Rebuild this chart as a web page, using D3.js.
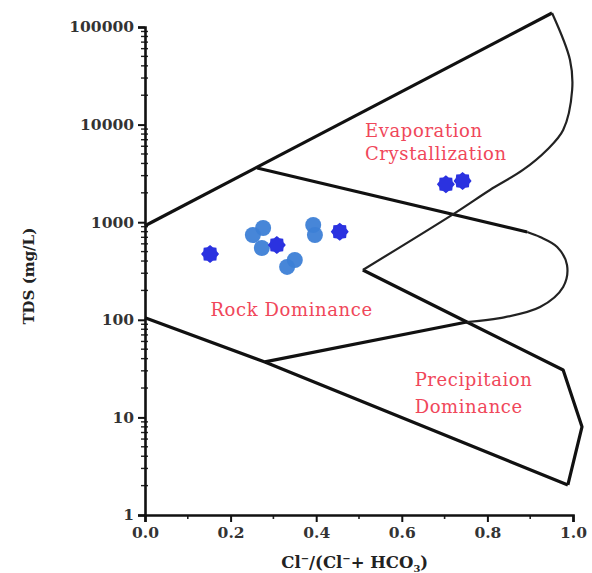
<!DOCTYPE html>
<html>
<head>
<meta charset="utf-8">
<title>Gibbs diagram</title>
<script src="https://d3js.org/d3.v7.min.js"></script>
<style>
  body { margin: 0; background: #fff; }
  svg text { font-family: "DejaVu Serif", serif; }
</style>
</head>
<body>
<div id="chart"></div>
<script>
// sample points: [Cl/(Cl+HCO3), TDS mg/L]
const darkPoints = [[0.152, 472], [0.308, 584], [0.455, 800], [0.703, 2450], [0.742, 2650]];
const lightPoints = [[0.276, 872], [0.252, 739], [0.273, 544], [0.393, 936], [0.397, 739], [0.332, 348], [0.350, 410]];

// boundary lines of the Gibbs diagram
const outerTopLine = [[0, 920], [0.951, 139000]];
const outerTopCurve = [[0.951, 139000], [0.993, 45900], [0.998, 22600], [0.977, 8800], [0.939, 5500],
                       [0.883, 3430], [0.806, 2140], [0.724, 1240], [0.509, 324]];
const midLine = [[0.262, 3590], [0.893, 794]];
const midCurve = [[0.893, 794], [0.923, 705], [0.963, 557], [0.986, 364], [0.977, 217], [0.923, 135],
                  [0.829, 104], [0.752, 95]];
const midLower = [[0.752, 95], [0.28, 37]];
const outerLower = [[0, 105], [0.28, 37], [0.988, 2.03]];
const rightLower = [[0.509, 324], [0.752, 95], [0.977, 30.6], [1.021, 8], [0.988, 2.03]];

const yTicks = [1, 10, 100, 1000, 10000, 100000];
const xTicks = [0, 0.2, 0.4, 0.6, 0.8, 1.0];

const width = 592, height = 573;
const margin = {top: 27, right: 19, bottom: 58, left: 145};
const w = width - margin.left - margin.right;
const h = height - margin.top - margin.bottom;

const svg = d3.select('#chart').append('svg')
    .attr('width', width)
    .attr('height', height);

const g = svg.append('g')
    .attr('transform', `translate(${margin.left},${margin.top})`);

const x = d3.scaleLinear().domain([0, 1]).range([0, w]);
const y = d3.scaleLog().domain([1, 100000]).range([h, 0]);

// minor ticks
const minorY = [];
for (let p = 0; p < 5; p++) for (let k = 2; k < 10; k++) minorY.push(k * Math.pow(10, p));
g.append('g').selectAll('line').data(minorY).join('line')
    .attr('x1', -4).attr('x2', 3)
    .attr('y1', d => y(d)).attr('y2', d => y(d))
    .attr('stroke', '#222').attr('stroke-width', 1.4);

g.append('g').selectAll('line').data([0.1, 0.3, 0.5, 0.7, 0.9]).join('line')
    .attr('x1', d => x(d)).attr('x2', d => x(d))
    .attr('y1', h).attr('y2', h + 4)
    .attr('stroke', '#222').attr('stroke-width', 1.6);

// axes
const yAxis = g.append('g')
    .call(d3.axisLeft(y).tickValues(yTicks).tickFormat(d3.format('d')).tickSize(7).tickPadding(4));
const xAxis = g.append('g')
    .attr('transform', `translate(0,${h})`)
    .call(d3.axisBottom(x).tickValues(xTicks).tickFormat(d3.format('.1f')).tickSize(7).tickPadding(5));

[yAxis, xAxis].forEach(a => {
  a.select('.domain').attr('stroke', '#111').attr('stroke-width', 2.6);
  a.selectAll('.tick line').attr('stroke', '#111').attr('stroke-width', 2);
  a.selectAll('.tick text')
      .attr('font-family', '"DejaVu Serif", serif')
      .attr('font-weight', 'bold')
      .attr('font-size', 15.5)
      .attr('fill', '#333');
});

// boundaries
const line = d3.line().x(d => x(d[0])).y(d => y(d[1]));
const curve = d3.line().x(d => x(d[0])).y(d => y(d[1])).curve(d3.curveCatmullRom.alpha(0.5));

[outerTopLine, midLine, midLower, outerLower, rightLower].forEach(pts => {
  g.append('path').attr('d', line(pts))
      .attr('fill', 'none').attr('stroke', '#111').attr('stroke-width', 3.2)
      .attr('stroke-linejoin', 'round');
});
[outerTopCurve, midCurve].forEach(pts => {
  g.append('path').attr('d', curve(pts))
      .attr('fill', 'none').attr('stroke', '#222').attr('stroke-width', 2.2);
});

// markers
const gear = d3.lineRadial().curve(d3.curveLinearClosed)
    .angle((d, i) => i * Math.PI / 8)
    .radius((d, i) => i % 2 ? 7.3 : 9);
const gearPts = d3.range(16);

g.append('g').selectAll('circle').data(lightPoints).join('circle')
    .attr('cx', d => x(d[0])).attr('cy', d => y(d[1]))
    .attr('r', 8)
    .attr('fill', '#3d7fd6').attr('opacity', 0.95);

g.append('g').selectAll('path').data(darkPoints).join('path')
    .attr('transform', d => `translate(${x(d[0])},${y(d[1])})`)
    .attr('d', gear(gearPts))
    .attr('fill', '#2b32e0');

// region labels
const labels = [
  {t: 'Evaporation', v: 0.514, tds: 7460},
  {t: 'Crystallization', v: 0.514, tds: 4340},
  {t: 'Rock Dominance', v: 0.153, tds: 110},
  {t: 'Precipitaion', v: 0.63, tds: 21},
  {t: 'Dominance', v: 0.63, tds: 11}
];
g.append('g').selectAll('text').data(labels).join('text')
    .attr('x', d => x(d.v)).attr('y', d => y(d.tds))
    .attr('fill', '#f0475a')
    .attr('font-size', 18)
    .attr('letter-spacing', 0.6)
    .text(d => d.t);

// axis titles
svg.append('text')
    .attr('transform', `translate(34,${margin.top + y(280)}) rotate(-90)`)
    .attr('text-anchor', 'middle')
    .attr('font-weight', 'bold').attr('font-size', 15).attr('fill', '#222')
    .text('TDS (mg/L)');

const xt = svg.append('text')
    .attr('x', margin.left + x(0.49)).attr('y', 568)
    .attr('text-anchor', 'middle')
    .attr('font-weight', 'bold').attr('font-size', 16.5).attr('fill', '#222');
xt.append('tspan').text('Cl');
xt.append('tspan').attr('dy', -6).attr('font-size', 10).text('−');
xt.append('tspan').attr('dy', 6).text('/(Cl');
xt.append('tspan').attr('dy', -6).attr('font-size', 10).text('−');
xt.append('tspan').attr('dy', 6).text('+ HCO');
xt.append('tspan').attr('dy', 4).attr('font-size', 10).text('3');
xt.append('tspan').attr('dy', -4).text(')');
</script>
</body>
</html>
